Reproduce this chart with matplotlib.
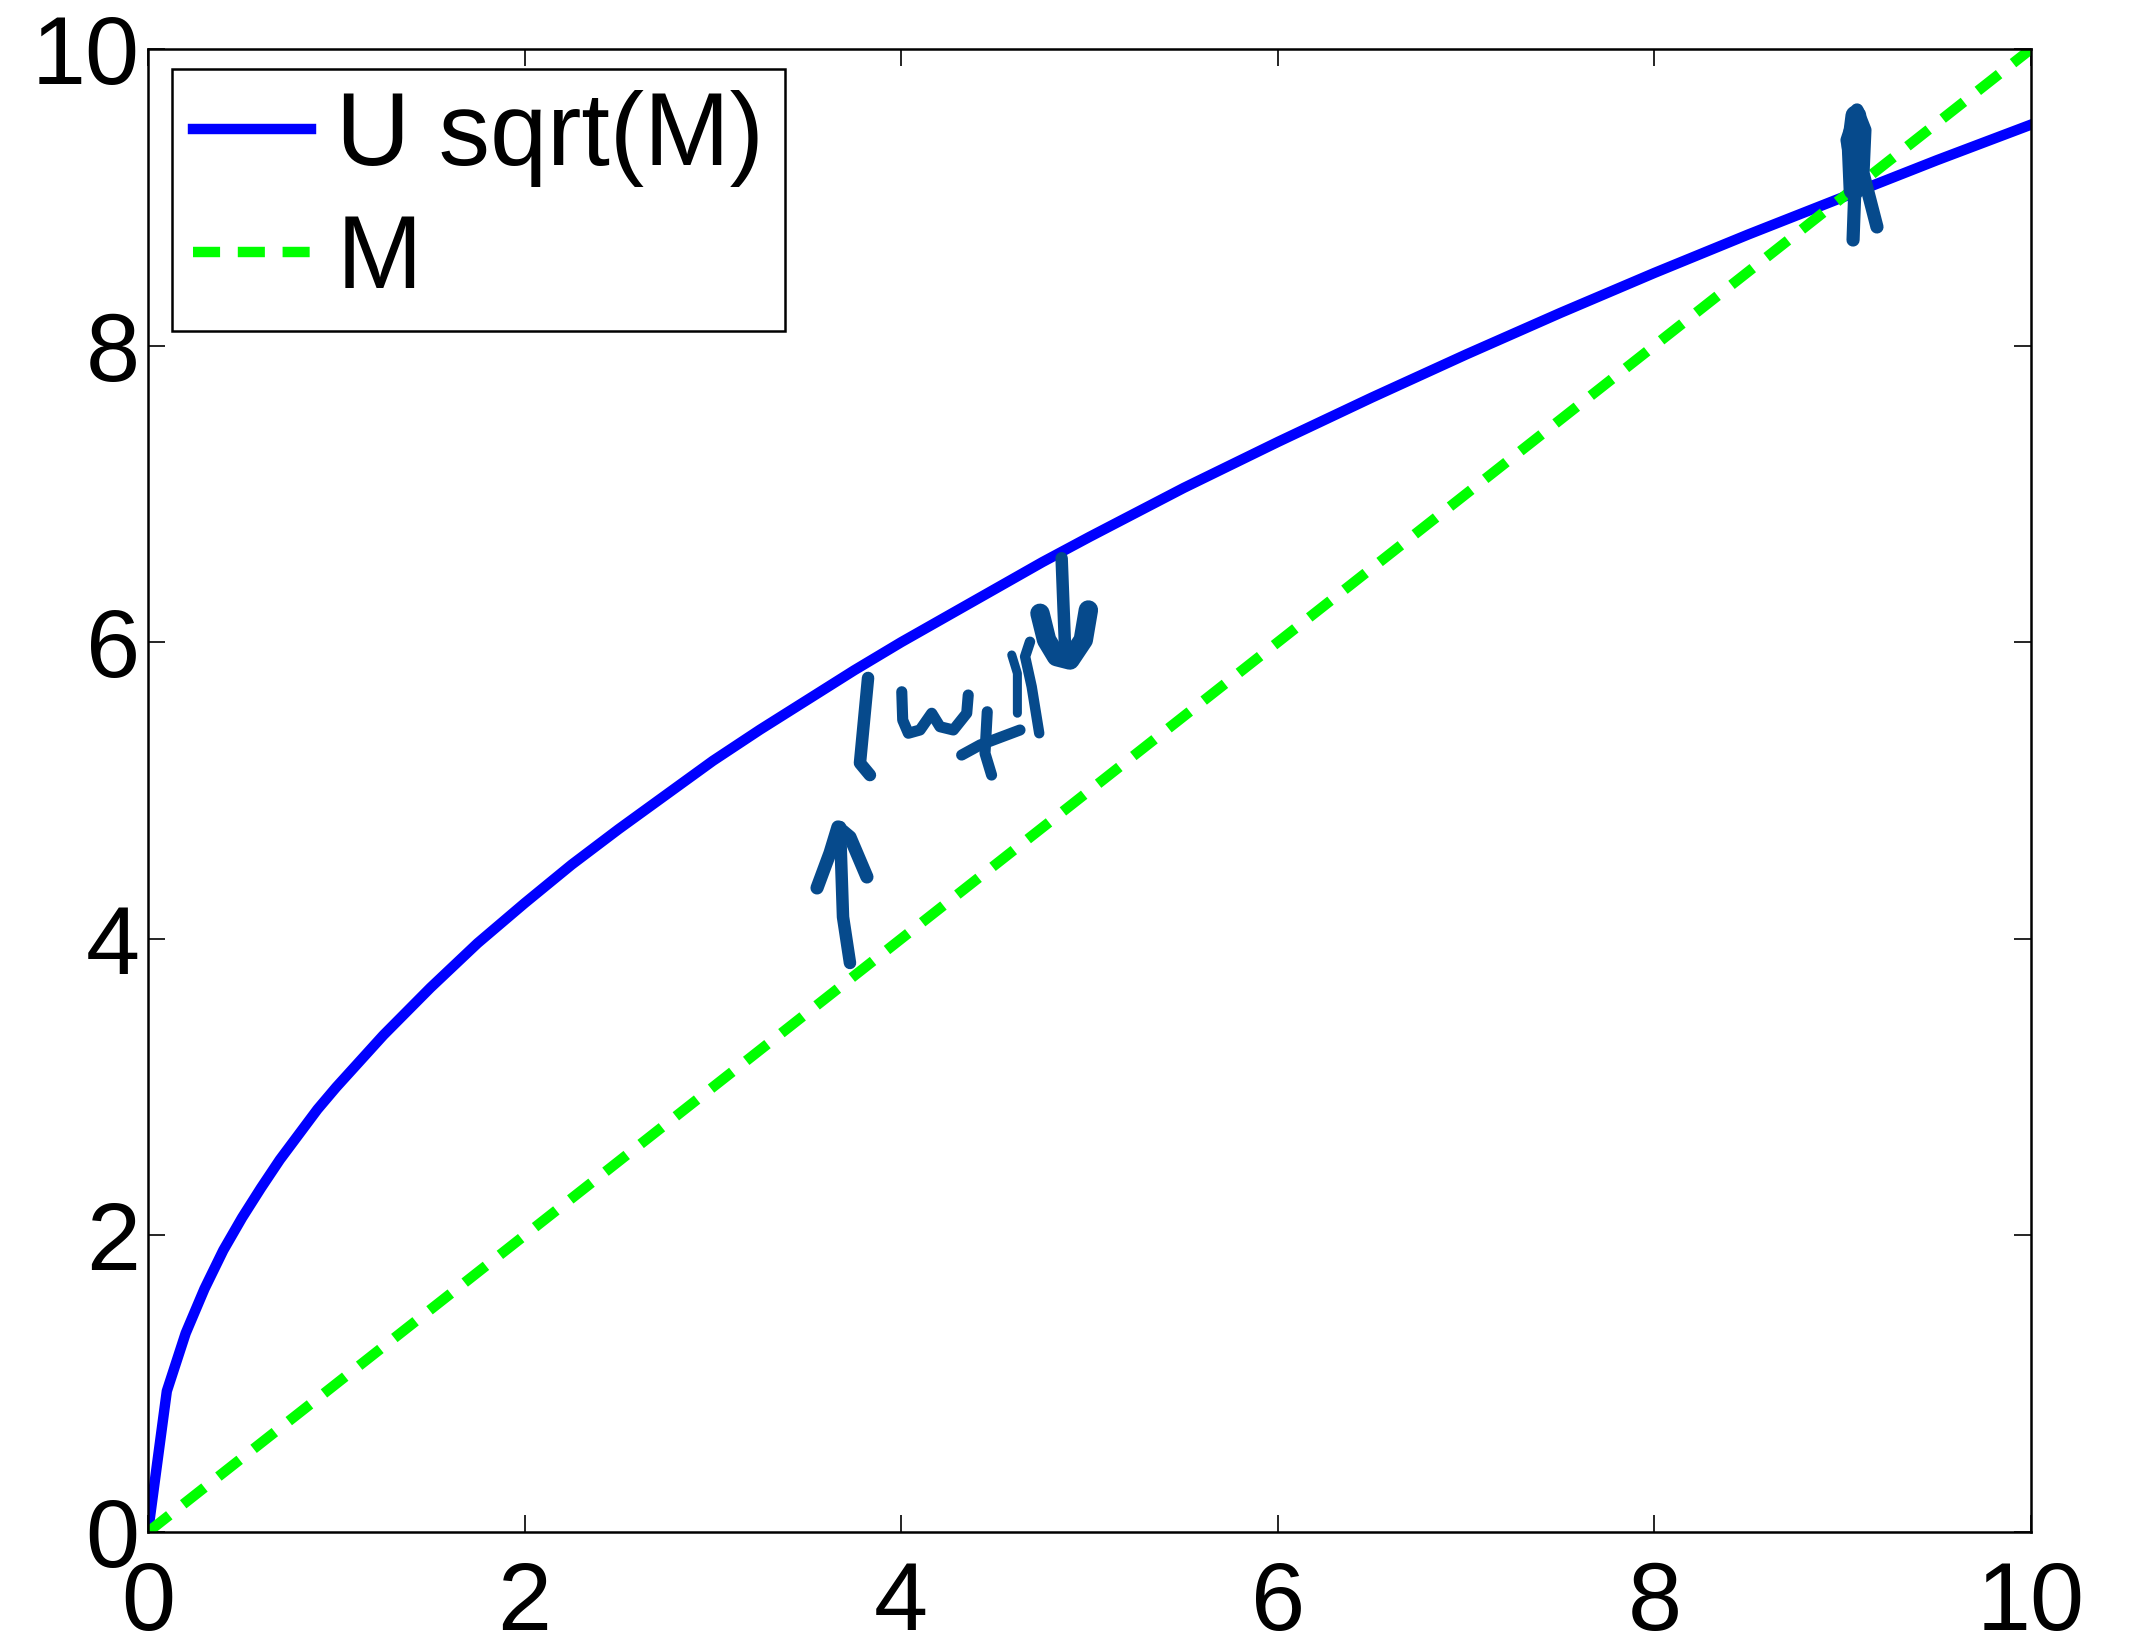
import matplotlib
matplotlib.use("Agg")
import matplotlib.pyplot as plt

# ---- data ----
m_vals = [0, 0.1, 0.2, 0.3, 0.4, 0.5, 0.6, 0.7, 0.8, 0.9, 1.0, 1.25, 1.5, 1.75,
          2, 2.25, 2.5, 2.75, 3, 3.25, 3.5, 3.75, 4, 4.25, 4.5, 4.75, 5, 5.5,
          6, 6.5, 7, 7.5, 8, 8.5, 9, 9.5, 10]
u_sqrt_vals = [0, 0.95, 1.34, 1.64, 1.90, 2.12, 2.32, 2.51, 2.68, 2.85, 3.00,
               3.35, 3.67, 3.97, 4.24, 4.50, 4.74, 4.97, 5.20, 5.41, 5.61, 5.81,
               6.00, 6.18, 6.36, 6.54, 6.71, 7.04, 7.35, 7.65, 7.94, 8.22, 8.49,
               8.75, 9.00, 9.25, 9.49]
m_line_x = [0, 10]
m_line_y = [0, 10]
series_labels = ["U sqrt(M)", "M"]
ticks = [0, 2, 4, 6, 8, 10]

# handwritten annotation strokes (data coordinates)
up_shaft_x = [3.728, 3.691, 3.675]
up_shaft_y = [3.837, 4.147, 4.754]
up_head_x = [3.553, 3.622, 3.664, 3.728, 3.818]
up_head_y = [4.343, 4.579, 4.754, 4.686, 4.417]
bar1_x = [3.824, 3.781, 3.834]
bar1_y = [5.759, 5.185, 5.104]
w_x = [4.003, 4.008, 4.038, 4.100, 4.162, 4.206, 4.277, 4.348, 4.356]
w_y = [5.666, 5.475, 5.386, 5.408, 5.521, 5.430, 5.408, 5.521, 5.644]
t_h_x = [4.321, 4.419, 4.631]
t_h_y = [5.239, 5.307, 5.408]
t_v_x = [4.457, 4.445, 4.480]
t_v_y = [5.531, 5.251, 5.104]
bar2a_x = [4.587, 4.617, 4.617]
bar2a_y = [5.914, 5.790, 5.521]
bar2b_x = [4.684, 4.658, 4.693, 4.733]
bar2b_y = [6.003, 5.903, 5.700, 5.386]
down_shaft_x = [4.852, 4.870]
down_shaft_y = [6.566, 5.970]
down_head_x = [4.737, 4.772, 4.825, 4.896, 4.967, 4.994]
down_head_y = [6.195, 6.015, 5.903, 5.880, 6.015, 6.217]
xmark_x = [9.055, 9.065, 9.023, 9.076, 9.118, 9.108, 9.182]
xmark_y = [8.712, 9.069, 9.386, 9.589, 9.454, 9.164, 8.800]
xblob_x = [9.060, 9.050, 9.070]
xblob_y = [9.05, 9.35, 9.55]

plt.rcParams['font.family'] = ['Liberation Sans', 'DejaVu Sans']

fig = plt.figure(figsize=(21.52, 16.52), dpi=100)
ax = fig.add_axes([148/2152, 1-1532/1652, 1883/2152, 1483/1652])

ax.plot(m_vals, u_sqrt_vals, color='#0000ff', lw=7.5, label=series_labels[0],
        solid_joinstyle='round')
ax.plot(m_line_x, m_line_y, color='#00ff00', lw=7.5, ls=(0, (2.6, 1.7)),
        dash_capstyle='butt', label=series_labels[1])

ink = '#064a8c'
strokes = [
    (up_shaft_x, up_shaft_y, 9), (up_head_x, up_head_y, 9.5),
    (bar1_x, bar1_y, 9), (w_x, w_y, 8), (t_h_x, t_h_y, 8),
    (t_v_x, t_v_y, 8), (bar2a_x, bar2a_y, 6.5), (bar2b_x, bar2b_y, 7.5),
    (down_shaft_x, down_shaft_y, 9), (down_head_x, down_head_y, 14),
    (xmark_x, xmark_y, 9.5), (xblob_x, xblob_y, 15),
]
for sx, sy, lw in strokes:
    ax.plot(sx, sy, color=ink, lw=lw, solid_capstyle='round',
            solid_joinstyle='round', zorder=5)

ax.set_xlim(0, 10)
ax.set_ylim(0, 10)
ax.set_xticks(ticks)
ax.set_yticks(ticks)
ax.set_xticklabels([str(t) for t in ticks])
ax.set_yticklabels([str(t) for t in ticks])
ax.tick_params(direction='in', length=12, width=1.2, labelsize=70,
               top=True, right=True)
ax.tick_params(axis='x', pad=20)
ax.tick_params(axis='y', pad=6)
for sp in ax.spines.values():
    sp.set_linewidth(1.8)

leg = ax.legend(loc='upper left', bbox_to_anchor=(172/2152, 1-69/1652),
                bbox_transform=fig.transFigure, borderaxespad=0,
                fontsize=74, fancybox=False, framealpha=1, edgecolor='black',
                handlelength=1.15, handletextpad=0.25, labelspacing=0.26,
                borderpad=0.2)
leg.get_frame().set_linewidth(1.8)

fig.savefig('out.png', dpi=100)
